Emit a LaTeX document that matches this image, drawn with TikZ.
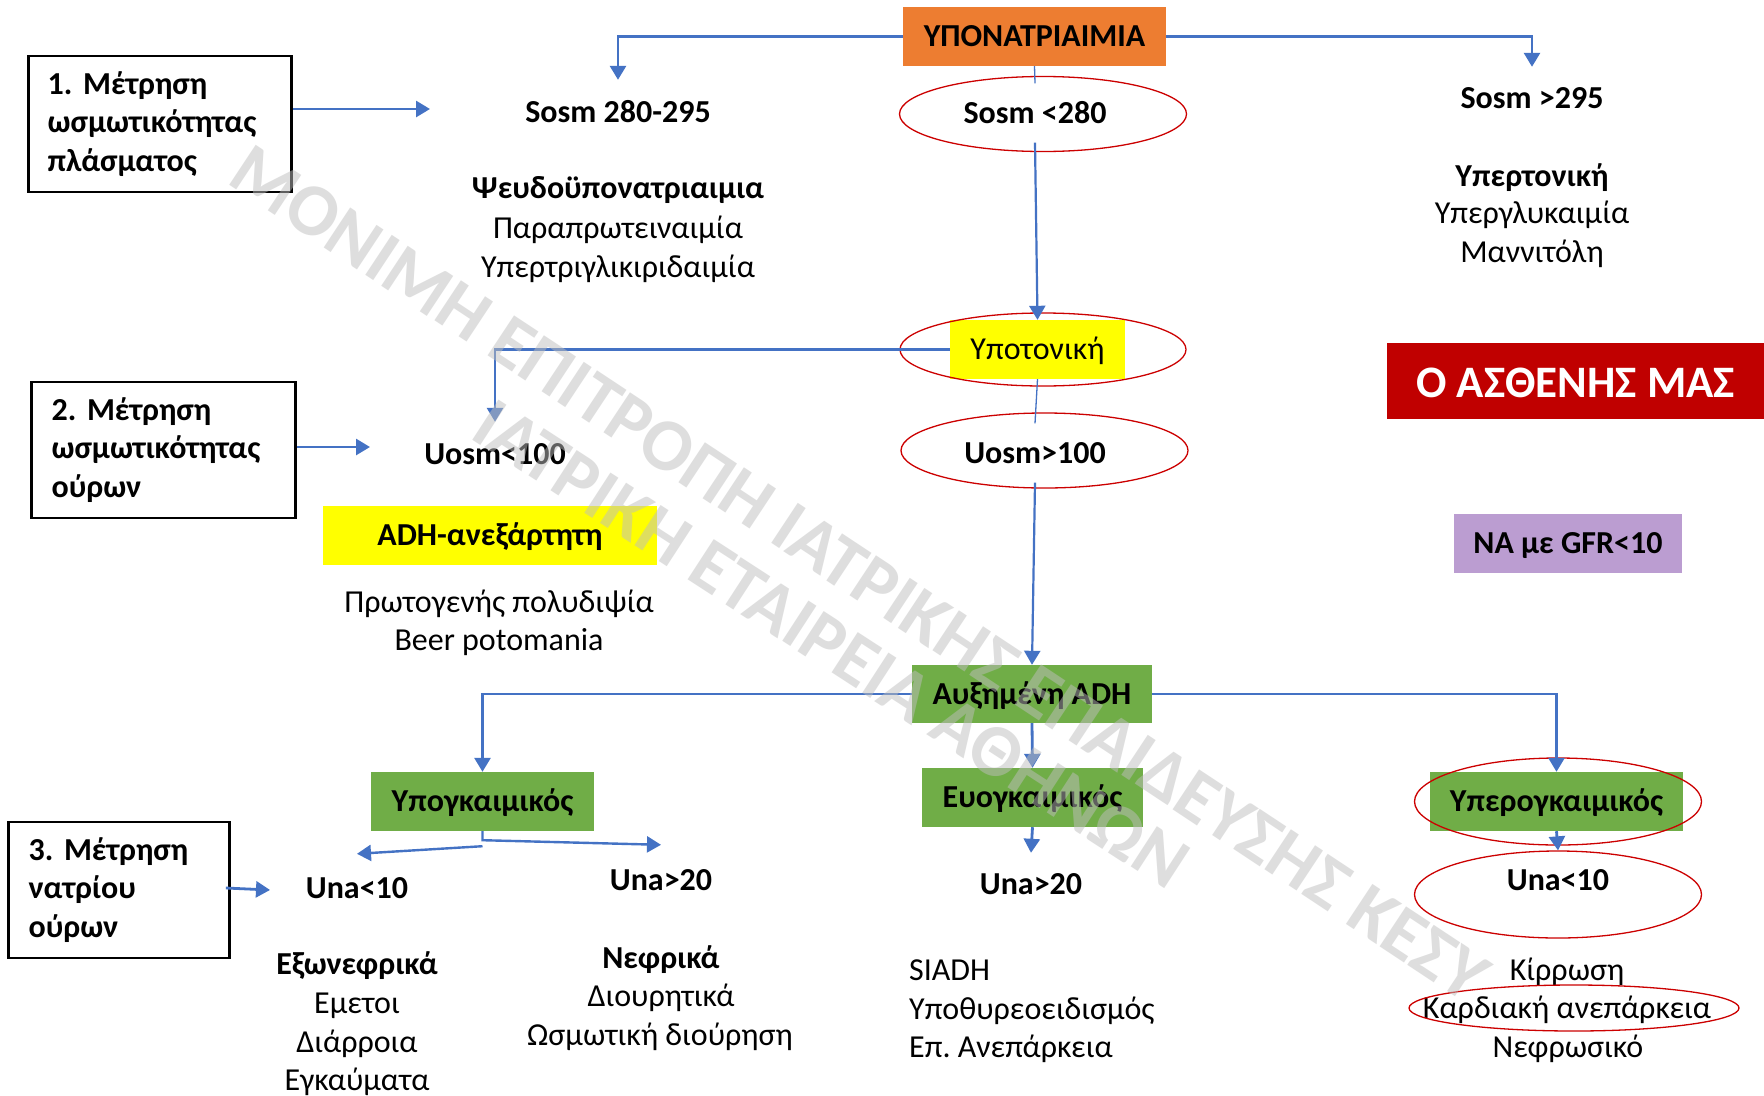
\documentclass[tikz,border=0pt]{standalone}
\usepackage{fontspec}
\setmainfont{Carlito}
\usetikzlibrary{arrows.meta,shapes.geometric}
\definecolor{lnblue}{HTML}{4472C4}
\definecolor{boxorange}{HTML}{ED7D31}
\definecolor{boxgreen}{HTML}{70AD47}
\definecolor{boxyellow}{HTML}{FFFF00}
\definecolor{boxpurple}{RGB}{187,157,209}
\definecolor{patred}{HTML}{C00000}
\definecolor{ovalred}{RGB}{204,0,0}
\definecolor{wmgray}{RGB}{190,190,190}
\frenchspacing
\begin{document}
\frenchspacing
\begin{tikzpicture}[x=1pt,y=-1pt,
  every node/.style={inner sep=0pt},
  txt/.style={font=\fontsize{32}{38}\selectfont\frenchspacing, text height=24pt, text depth=4pt},
  btxt/.style={txt, font=\fontsize{32}{38}\selectfont\bfseries\frenchspacing},
  fbox/.style={btxt, minimum height=59pt},
  link/.style={draw=lnblue, line width=2.8pt},
  arr/.style={link, -{Triangle[length=14pt,width=16pt]}},
  thinlink/.style={draw=lnblue, line width=1.3pt},
  oval/.style={ellipse, draw=ovalred, line width=1.3pt},
  stepbox/.style={draw=black, line width=2.5pt, font=\fontsize{32}{38.5}\selectfont\bfseries\frenchspacing, align=left, minimum height=136pt, inner xsep=19pt, inner ysep=0pt},
  wm/.style={font=\fontsize{74}{80}\selectfont\bfseries, text=wmgray, text opacity=0.5, anchor=base west}
]
\useasboundingbox[fill=white] (0,0) rectangle (1764,1095);

% step boxes
\node[stepbox, text width=225pt] (b1) at (160.15,124) {1. Μέτρηση\\ωσμωτικότητας\\πλάσματος};
\node[stepbox, text width=224pt, inner xsep=20pt] (b2) at (163.6,450) {2. Μέτρηση\\ωσμωτικότητας\\ούρων};
\node[stepbox, text width=181pt, inner xsep=20pt] (b3) at (119.1,890) {3. Μέτρηση\\νατρίου\\ούρων};
\coordinate (c1) at (430,109);
\coordinate (c2) at (370,447);
\coordinate (c3) at (270,890);

% top
\node[fbox, fill=boxorange, minimum width=263pt] (hypo) at (1034.5,36.5) {ΥΠΟΝΑΤΡΙΑΙΜΙΑ};

\node[btxt, minimum height=64pt] (s1) at (618,112) {Sosm 280-295};
\node[btxt] (s1a) at (618,188) {Ψευδοϋπονατριαιμια};
\node[txt] (s1b) at (618,228) {Παραπρωτειναιμία};
\node[txt] (s1c) at (618,267) {Υπερτριγλικιριδαιμία};

\node[btxt, minimum height=62pt] (s3) at (1532,98) {Sosm >295};
\node[btxt] (s3a) at (1532,176) {Υπερτονική};
\node[txt] (s3b) at (1532,213) {Υπεργλυκαιμία};
\node[txt] (s3c) at (1532,252) {Μαννιτόλη};

\node[btxt, minimum height=59pt] (s2) at (1035,113) {Sosm <280};
\node[oval, minimum width=287pt, minimum height=75pt] (e1) at (1043,114) {};

\node[txt, fill=boxyellow, minimum width=175pt, minimum height=59pt] (hypot) at (1037.5,349.5) {Υποτονική};
\node[oval, minimum width=286pt, minimum height=73pt] (e2) at (1043,349.5) {};

\node[btxt, minimum height=59pt] (u2) at (1035,453) {Uosm>100};
\node[oval, minimum width=287pt, minimum height=75pt] (e3) at (1044.5,450.5) {};

\node[btxt, minimum height=64pt] (u1) at (495,454) {Uosm<100};
\node[fbox, fill=boxyellow, minimum width=334pt] (adhind) at (490,535.5) {ADH-ανεξάρτητη};
\node[txt] (u1a) at (499,602) {Πρωτογενής πολυδιψία};
\node[txt] (u1b) at (499,640) {Beer potomania};

\node[fill=patred, minimum width=377pt, minimum height=76pt, font=\fontsize{45}{50}\selectfont\bfseries, text=white, text height=33pt, text depth=0pt] (pat) at (1575.5,381) {Ο ΑΣΘΕΝΗΣ ΜΑΣ};
\node[fbox, fill=boxpurple, minimum width=228pt] (gfr) at (1568,543.5) {ΝΑ με GFR<10};

% ADH level
\node[fbox, fill=boxgreen, minimum width=240pt, minimum height=58pt] (adh) at (1032,694) {Αυξημένη ADH};
\node[fbox, fill=boxgreen, minimum width=223pt] (hypov) at (482.5,801.5) {Υπογκαιμικός};
\node[fbox, fill=boxgreen, minimum width=221pt] (euv) at (1032.5,797.5) {Ευογκαιμικός};
\node[fbox, fill=boxgreen, minimum width=253pt] (hyperv) at (1556.5,801.5) {Υπερογκαιμικός};
\node[oval, minimum width=287pt, minimum height=87pt] (e4) at (1558,801.5) {};
\node[oval, minimum width=287pt, minimum height=87pt] (e5) at (1558,894.5) {};
\node[btxt] (una4) at (1558,880) {Una<10};

\node[btxt, minimum height=68pt] (una1) at (357,888) {Una<10};
\node[btxt, minimum height=70pt] (una2) at (661,880) {Una>20};
\node[btxt, minimum height=62pt] (una3) at (1031,884) {Una>20};

\node[btxt] (x1) at (357,964) {Εξωνεφρικά};
\node[txt] (x2) at (357,1003) {Εμετοι};
\node[txt] (x3) at (357,1042) {Διάρροια};
\node[txt] (x4) at (357,1080) {Εγκαύματα};

\node[btxt] (n1) at (661,958) {Νεφρικά};
\node[txt] (n2) at (661,996) {Διουρητικά};
\node[txt] (n3) at (660,1035) {Ωσμωτική διούρηση};

\node[txt, anchor=west] (si1) at (909,970) {SIADH};
\node[txt, anchor=west] (si2) at (909,1009) {Υποθυρεοειδισμός};
\node[txt, anchor=west] (si3) at (909,1047) {Επ. Ανεπάρκεια};

\node[txt] (k1) at (1567,970) {Κίρρωση};
\node[txt] (k2) at (1567,1008) {Καρδιακή ανεπάρκεια};
\node[txt] (k3) at (1568,1047) {Νεφρωσικό};
\node[oval, minimum width=330pt, minimum height=46pt] (e6) at (1574,1008) {};

% connectors
\draw[arr] ([yshift=15pt]b1.east) -- (c1);
\draw[arr] ([yshift=3pt]b2.east) -- (c2);
\draw[arr] ([xshift=-5pt,yshift=2pt]b3.east) -- (c3);
\draw[arr] (hypo.west) -| (s1.north);
\draw[arr] (hypo.east) -| (s3.north);
\draw[thinlink] (hypo.south) -- (s2.north);
\draw[arr, line width=2.2pt] (s2.south) -- (hypot.north);
\draw[arr] (hypot.west) -| (u1.north);
\draw[thinlink] (hypot.south) -- (u2.north);
\draw[arr, line width=2.2pt] (u2.south) -- (adh.north);
\draw[arr] (adh.west) -| (hypov.north);
\draw[arr] (adh.east) -| (hyperv.north);
\draw[arr] (adh.south) -- (euv.north);
\draw[arr] (euv.south) -- (una3.north);
\draw[arr] (hyperv.south) -- (e5.north);
\draw[arr, line width=2.4pt] (hypov.south) -- ++(0,9) -- (una2.north);
\draw[arr, line width=2.4pt] ([yshift=-15pt]hypov.south) -- (una1.north);

% watermark
\node[wm, rotate=-33.5] (wm1) at (225,182) {ΜΟΝΙΜΗ ΕΠΙΤΡΟΠΗ ΙΑΤΡΙΚΗΣ ΕΠΑΙΔΕΥΣΗΣ ΚΕΣΥ};
\node[wm, rotate=-33] (wm2) at (468,437) {ΙΑΤΡΙΚΗ ΕΤΑΙΡΕΙΑ ΑΘΗΝΩΝ};
\end{tikzpicture}
\end{document}
